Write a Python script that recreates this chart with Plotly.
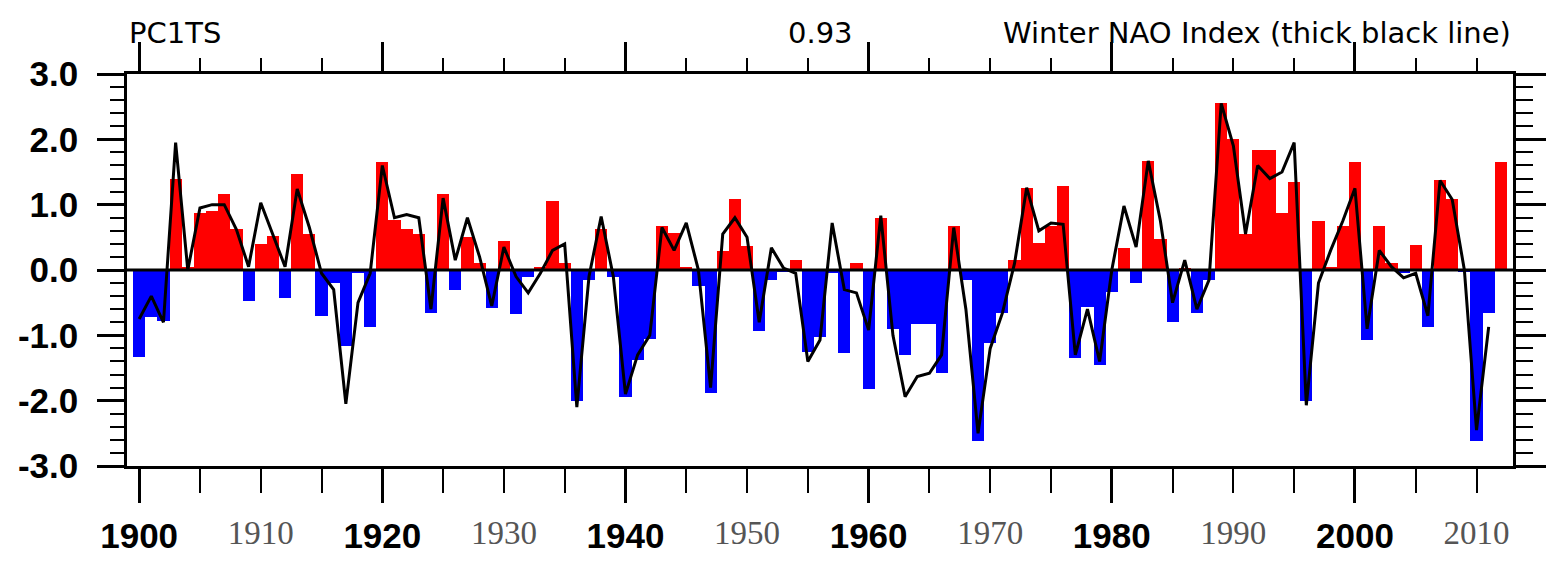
import plotly.graph_objects as go

years = list(range(1900, 2013))

pc1ts = [
    -1.33, -0.72, -0.78, 1.40, 0.05, 0.88, 0.90, 1.16, 0.62, -0.48,   # 1900-1909
    0.40, 0.52, -0.43, 1.47, 0.55, -0.71, -0.20, -1.17, -0.05, -0.87, # 1910-1919
    1.65, 0.77, 0.62, 0.55, -0.66, 1.16, -0.30, 0.50, 0.10, -0.58,    # 1920-1929
    0.44, -0.68, -0.10, 0.05, 1.06, 0.10, -2.00, -0.15, 0.62, -0.10,  # 1930-1939
    -1.95, -1.38, -1.05, 0.67, 0.57, 0.05, -0.25, -1.89, 0.29, 1.08,  # 1940-1949
    0.36, -0.94, -0.15, -0.02, 0.16, -1.25, -1.02, -0.05, -1.27, 0.10,# 1950-1959
    -1.82, 0.80, -0.90, -1.30, -0.82, -0.82, -1.58, 0.67, -0.15, -2.61,# 1960-1969
    -1.12, -0.66, 0.16, 1.26, 0.41, 0.67, 1.29, -1.35, -0.56, -1.45,  # 1970-1979
    -0.33, 0.34, -0.20, 1.67, 0.47, -0.79, 0.02, -0.66, -0.15, 2.55,  # 1980-1989
    2.00, 0.55, 1.83, 1.83, 0.88, 1.34, -2.00, 0.75, 0.05, 0.67,      # 1990-1999
    1.65, -1.07, 0.67, 0.10, -0.05, 0.39, -0.87, 1.37, 1.08, -0.03,   # 2000-2009
    -2.61, -0.66, 1.65,                                               # 2010-2012
]

nao_years = list(range(1900, 2012))
nao = [
    -0.75, -0.40, -0.80, 1.95, 0.00, 0.95, 1.00, 1.00, 0.62, 0.05,    # 1900-1909
    1.03, 0.55, 0.05, 1.24, 0.65, -0.05, -0.30, -2.05, -0.50, -0.05,  # 1910-1919
    1.60, 0.80, 0.85, 0.80, -0.60, 1.10, 0.15, 0.80, 0.20, -0.55,     # 1920-1929
    0.35, -0.10, -0.35, -0.05, 0.30, 0.40, -2.10, -0.10, 0.82, -0.10, # 1930-1939
    -1.90, -1.30, -1.00, 0.65, 0.30, 0.72, 0.00, -1.80, 0.55, 0.80,   # 1940-1949
    0.50, -0.80, 0.34, 0.03, -0.05, -1.40, -1.07, 0.72, -0.30, -0.35, # 1950-1959
    -0.92, 0.83, -1.00, -1.94, -1.63, -1.58, -1.30, 0.65, -0.60, -2.50,# 1960-1969
    -1.20, -0.66, 0.10, 1.26, 0.60, 0.72, 0.70, -1.30, -0.60, -1.40,  # 1970-1979
    0.00, 0.98, 0.35, 1.67, 0.75, -0.50, 0.15, -0.60, -0.15, 2.55,    # 1980-1989
    1.90, 0.55, 1.60, 1.40, 1.50, 1.95, -2.07, -0.20, 0.30, 0.75,     # 1990-1999
    1.25, -0.90, 0.30, 0.05, -0.12, -0.05, -0.70, 1.37, 1.08, 0.00,   # 2000-2009
    -2.45, -0.87,                                                     # 2010-2011
]

bold_ticks = [1900, 1920, 1940, 1960, 1980, 2000]
serif_ticks = [1910, 1930, 1950, 1970, 1990, 2010]
y_ticks = [-3, -2, -1, 0, 1, 2, 3]
y_ticktext = ["-3.0", "-2.0", "-1.0", "0.0", "1.0", "2.0", "3.0"]

left_title = "PC1TS"
mid_title = "0.93"
right_title = "Winter NAO Index (thick black line)"

RED = "#FF0000"
BLUE = "#0000FF"
bar_colors = [RED if v >= 0 else BLUE for v in pc1ts]

XR = [1899, 2013]
YR = [-3, 3]

fig = go.Figure()
fig.add_trace(go.Bar(x=years, y=pc1ts, width=1.0, marker=dict(color=bar_colors, line=dict(width=0)),
                     showlegend=False, hoverinfo="x+y"))
fig.add_trace(go.Scatter(x=nao_years, y=nao, mode="lines", line=dict(color="black", width=3),
                         showlegend=False))
# helper (invisible) traces so the overlay axes are drawn
fig.add_trace(go.Scatter(x=[years[0]], y=[None], xaxis="x2", yaxis="y2", showlegend=False, hoverinfo="skip"))
fig.add_trace(go.Scatter(x=[years[0]], y=[None], xaxis="x3", yaxis="y", showlegend=False, hoverinfo="skip"))

axis_common = dict(showgrid=False, zeroline=False, showline=True, linecolor="black", linewidth=2.5,
                   ticks="outside", tickcolor="black", tickwidth=2.5)

fig.update_layout(
    width=1546, height=563,
    margin=dict(l=127, r=33, t=74, b=97, autoexpand=False),
    paper_bgcolor="white", plot_bgcolor="white",
    bargap=0,
    xaxis=dict(range=XR, tickvals=bold_ticks, ticktext=[str(t) for t in bold_ticks], ticklen=34,
               tickfont=dict(family="Liberation Sans", size=35, color="black", weight="bold"),
               ticklabelstandoff=3,
               minor=dict(dtick=5, tick0=1900, ticklen=24, tickwidth=2, tickcolor="black", ticks="outside"),
               **axis_common),
    xaxis2=dict(range=XR, overlaying="x", side="top", anchor="y", tickvals=bold_ticks, ticklen=29,
                showticklabels=False,
                minor=dict(dtick=5, tick0=1900, ticklen=13, tickwidth=2, tickcolor="black", ticks="outside"),
                **axis_common),
    xaxis3=dict(range=XR, overlaying="x", side="bottom", anchor="y", tickvals=serif_ticks,
                ticktext=[str(t) for t in serif_ticks], ticks="outside", ticklen=34, tickcolor="rgba(0,0,0,0)",
                tickfont=dict(family="Liberation Serif", size=33, color="#555555"),
                ticklabelstandoff=3, showline=False, showgrid=False, zeroline=False),
    yaxis=dict(range=YR, tickvals=y_ticks, ticktext=y_ticktext, ticklen=27,
               tickfont=dict(family="Liberation Sans", size=35, color="black", weight="bold"),
               ticklabelstandoff=12,
               minor=dict(dtick=0.2, tick0=0, ticklen=14, tickwidth=2, tickcolor="black", ticks="outside"),
               **axis_common),
    yaxis2=dict(range=YR, overlaying="y", side="right", anchor="x", tickvals=y_ticks, ticklen=33,
                showticklabels=False,
                minor=dict(dtick=0.2, tick0=0, ticklen=17, tickwidth=2, tickcolor="black", ticks="outside"),
                **axis_common),
    shapes=[dict(type="line", xref="paper", x0=0, x1=1, yref="y", y0=0, y1=0,
                 line=dict(color="black", width=3), layer="above")],
    annotations=[
        dict(text=left_title, xref="paper", yref="paper", x=0, y=1, xanchor="left", yanchor="bottom",
             yshift=22, showarrow=False, font=dict(family="DejaVu Sans", size=29, color="black")),
        dict(text=mid_title, xref="paper", yref="paper", x=(820 - 127) / (1546 - 127 - 33), y=1,
             xanchor="center", yanchor="bottom", yshift=22, showarrow=False,
             font=dict(family="DejaVu Sans", size=29, color="black")),
        dict(text=right_title, xref="paper", yref="paper", x=1, y=1, xanchor="right", yanchor="bottom",
             yshift=22, showarrow=False, font=dict(family="DejaVu Sans", size=29, color="black")),
    ],
)

fig.write_html("out.html")
